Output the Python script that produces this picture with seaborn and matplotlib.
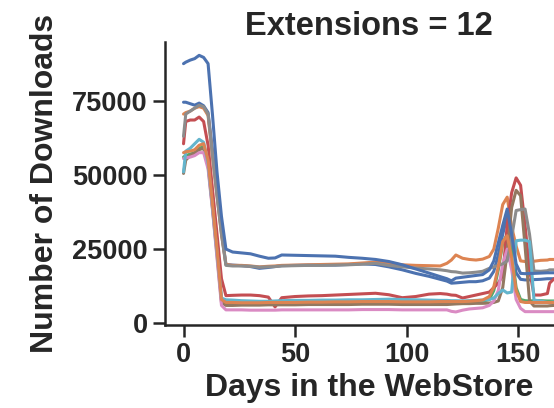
import matplotlib
matplotlib.use("Agg")
import matplotlib.pyplot as plt
import seaborn as sns
import pandas as pd

days = [0, 1, 3, 5, 7, 9, 11, 13, 15, 17, 19, 22, 26, 30, 34, 38, 41, 44, 50, 56,
        62, 68, 74, 80, 86, 92, 98, 104, 110, 115, 118, 120, 122, 125, 128, 131, 134,
        137, 139, 141, 143, 145, 147, 149, 151, 153, 155, 157, 160, 163, 164, 166]

blue_a = [87500, 88000, 88700, 89200, 90300, 89600, 87500, 70000, 51000, 36000, 25000,
          24000, 23700, 23400, 22600, 21900, 22000, 23000, 22900, 22800, 22700, 22600,
          22200, 21900, 21500, 20800, 19700, 18300, 16900, 15700, 15000, 14300, 15200,
          15500, 15800, 16100, 16400, 18000, 21000, 27000, 33000, 38500, 30000, 20000,
          16800, 16700, 16800, 16800, 16900, 17000, 17000, 17000]
blue_b = [74500, 74500, 74000, 73500, 74200, 73300, 71000, 58000, 44000, 31000, 19800,
          19600, 19400, 19100, 18500, 18800, 19100, 19400, 19500, 19600, 19600, 19600,
          19800, 20000, 19800, 19000, 18000, 16800, 15800, 14800, 14200, 13500, 13600,
          13800, 14000, 14000, 14300, 15200, 17500, 23000, 30000, 36000, 27000, 17000,
          14800, 14600, 14600, 14700, 14800, 15000, 15000, 15000]
orange_hi = [70500, 71000, 71500, 72500, 73000, 72500, 70000, 56000, 43000, 30000, 19800,
             19500, 19500, 19300, 19000, 19200, 19300, 19500, 19600, 19700, 19800, 19900,
             20000, 20300, 20600, 20200, 19700, 19500, 19400, 19300, 20200, 21300, 23000,
             21900, 21500, 21300, 21600, 22500, 25000, 32000, 40000, 42500, 32500, 26000,
             21000, 20800, 20800, 20900, 21200, 21300, 21500, 21500]
gray = [63000, 70500, 71500, 72500, 73500, 73000, 70500, 56500, 43000, 30000, 19500,
        19300, 19300, 19200, 18900, 19000, 19100, 19300, 19400, 19500, 19500, 19600,
        19700, 19900, 20200, 19500, 19000, 18600, 18300, 18000, 17700, 17400, 17300,
        16900, 17000, 17200, 17500, 18500, 19000, 19500, 20000, 21000, 29000, 38000,
        38300, 38500, 30000, 17600, 17500, 17700, 18000, 18000]
red = [60500, 68000, 68500, 68500, 69500, 68000, 60000, 45000, 30000, 15000, 9300,
       9400, 9500, 9500, 9300, 8800, 5500, 8600, 9000, 9200, 9300, 9500,
       9700, 9900, 10100, 9600, 8600, 9000, 9800, 10000, 9800, 9500, 9400,
       8500, 9000, 9500, 10000, 10500, 12000, 13500, 16000, 33000, 44000, 49000,
       46500, 33000, 18000, 9500, 9500, 10000, 13500, 15000]
cyan = [51000, 58000, 59000, 60500, 62000, 61000, 54000, 39000, 24000, 8500, 7900,
        7800, 7600, 7500, 7400, 7400, 7500, 7600, 7700, 7700, 7800, 7800,
        7900, 7900, 8000, 8100, 8000, 7900, 7800, 7700, 7700, 7600, 7600,
        7500, 7600, 7700, 7800, 8000, 8500, 10000, 11200, 10200, 10500, 27800,
        28000, 28000, 27500, 7800, 7500, 7000, 7000, 7200]
orange_lo = [57500, 57800, 58000, 58500, 60000, 60500, 55000, 40000, 25000, 8000, 7000,
             7000, 6900, 6900, 6900, 7000, 7000, 7000, 7000, 7100, 7100, 7200,
             7200, 7300, 7300, 7300, 7200, 7200, 7200, 7300, 7300, 7300, 7300,
             7300, 7400, 7600, 7800, 9000, 12300, 19000, 27500, 29500, 22000, 11000,
             7300, 7000, 7000, 7000, 7000, 7000, 7000, 7000]
pink = [55500, 55800, 56000, 56500, 57500, 57500, 52000, 38000, 22000, 6000, 4500,
        4500, 4500, 4400, 4400, 4400, 4400, 4500, 4500, 4500, 4500, 4500,
        4500, 4600, 4600, 4600, 4500, 4500, 4500, 4500, 4500, 4000, 3800,
        4400, 4800, 5000, 5200, 6000, 7500, 11000, 20000, 25000, 18000, 8000,
        5000, 3900, 3900, 3900, 3900, 3900, 3900, 3900]
brown = [50500, 55000, 56500, 57500, 58500, 59000, 53000, 38500, 23000, 7000, 6000,
         6000, 6100, 6100, 6100, 6200, 6200, 6200, 6200, 6300, 6300, 6300,
         6300, 6400, 6400, 6400, 6300, 6300, 6300, 6300, 6300, 6400, 6500,
         6600, 6600, 6700, 6700, 6800, 7000, 7500, 12000, 24000, 39000, 44800,
         43000, 26000, 7500, 5800, 5800, 5800, 5900, 6000]
green = [56000, 56500, 57000, 57500, 59000, 59500, 54000, 39500, 24500, 7800, 6800,
         6800, 6800, 6800, 6800, 6800, 6900, 6900, 6900, 6900, 7000, 7000,
         7000, 7000, 7100, 7100, 7000, 7000, 7000, 7000, 7000, 7000, 7000,
         7000, 7100, 7200, 7400, 8000, 11000, 18000, 27000, 30000, 24000, 12000,
         8000, 7600, 7500, 7600, 7600, 7500, 7500, 7500]

series = {
    "blue_b": blue_b,
    "orange_hi": orange_hi,
    "green": green,
    "red": red,
    "brown": brown,
    "pink": pink,
    "gray": gray,
    "cyan": cyan,
    "blue_a": blue_a,
    "orange_lo": orange_lo,
}

deep = sns.color_palette("deep")
palette = {
    "blue_b": deep[0], "orange_hi": deep[1], "green": deep[2], "red": deep[3],
    "brown": deep[5], "pink": deep[6], "gray": deep[7], "cyan": deep[9],
    "blue_a": deep[0], "orange_lo": deep[1],
}

rows = []
for name, vals in series.items():
    for d, v in zip(days, vals):
        rows.append({"day": d, "downloads": v, "ext": name})
df = pd.DataFrame(rows)

sns.set_theme(style="ticks")
plt.rcParams["font.family"] = ["Liberation Sans", "DejaVu Sans"]
plt.rcParams["font.weight"] = "bold"

fig = plt.figure(figsize=(5.54, 4.08), dpi=100)
ax = fig.add_axes([165 / 554, 83 / 408, (572.6 - 165) / 554, (366 - 83) / 408])

sns.lineplot(data=df, x="day", y="downloads", hue="ext", hue_order=list(series.keys()),
             palette=palette, legend=False, ax=ax, linewidth=2.2)

ax.set_xlim(-8.3, 174.3)
ax.set_ylim(-600, 94800)
ax.set_xticks([0, 50, 100, 150])
ax.set_yticks([0, 25000, 50000, 75000])
ax.set_xlabel("Days in the WebStore", fontsize=23, fontweight="bold", color="#262626",
              labelpad=3)
ax.set_ylabel("Number of Downloads", fontsize=23, fontweight="bold", color="#262626",
              labelpad=9)
ax.set_title("Extensions = 12", fontsize=23.5, fontweight="bold", color="#262626", pad=5)
ax.tick_params(axis="both", labelsize=19.5, length=8.5, width=1.8, colors="#262626", pad=4)
for lab in ax.get_xticklabels() + ax.get_yticklabels():
    lab.set_fontweight("bold")
for s in ["left", "bottom"]:
    ax.spines[s].set_linewidth(1.8)
    ax.spines[s].set_color("#262626")
sns.despine(ax=ax)

fig.savefig("out.png", dpi=100)
